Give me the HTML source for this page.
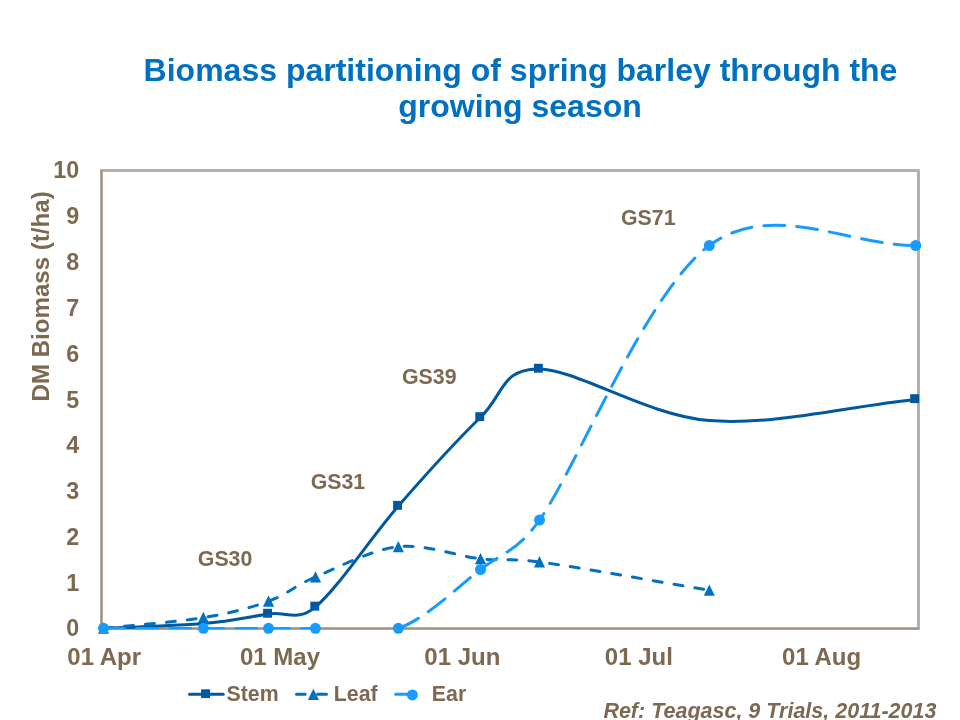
<!DOCTYPE html>
<html lang="en"><head><meta charset="utf-8"><title>Biomass partitioning of spring barley</title>
<style>
html,body{margin:0;padding:0;background:#fff;}
body{width:960px;height:720px;overflow:hidden;font-family:"Liberation Sans",sans-serif;}
svg{display:block;}
text{font-family:"Liberation Sans",sans-serif;font-weight:bold;}
</style></head><body>
<svg width="960" height="720" viewBox="0 0 960 720">
<rect width="960" height="720" fill="#fff"/>
<g fill="#0070C0" font-size="32" text-anchor="middle"><text x="520.5" y="80.8">Biomass partitioning of spring barley through the</text><text x="520" y="117.4">growing season</text></g>
<rect x="101.5" y="170.5" width="817.0" height="458.0" fill="none" stroke="#BBB0A5" stroke-width="3" stroke-linejoin="round"/>
<path d="M101.5 169.5V628.65H919.5" stroke="rgba(125,104,80,0.47)" stroke-width="1.4" fill="none" stroke-linejoin="round"/>
<g fill="#7D6850" font-size="23.33" text-anchor="end">
<text transform="translate(79.3 635.8) scale(1 1.04)">0</text>
<text transform="translate(79.3 590.9) scale(1 1.04)">1</text>
<text transform="translate(79.3 545.1) scale(1 1.04)">2</text>
<text transform="translate(79.3 499.3) scale(1 1.04)">3</text>
<text transform="translate(79.3 453.4) scale(1 1.04)">4</text>
<text transform="translate(79.3 407.6) scale(1 1.04)">5</text>
<text transform="translate(79.3 361.8) scale(1 1.04)">6</text>
<text transform="translate(79.3 315.8) scale(1 1.04)">7</text>
<text transform="translate(79.3 270.0) scale(1 1.04)">8</text>
<text transform="translate(79.3 223.8) scale(1 1.04)">9</text>
<text transform="translate(79.3 177.8) scale(1 1.04)">10</text>
</g>
<g fill="#7D6850" font-size="24" text-anchor="middle">
<text transform="translate(104.2 665.1) scale(1 1.03)">01 Apr</text>
<text transform="translate(280.0 665.1) scale(1 1.03)">01 May</text>
<text transform="translate(462.3 665.1) scale(1 1.03)">01 Jun</text>
<text transform="translate(638.8 665.1) scale(1 1.03)">01 Jul</text>
<text transform="translate(821.6 665.1) scale(1 1.03)">01 Aug</text>
</g>
<text transform="translate(48.8 296.4) rotate(-90)" fill="#7D6850" font-size="24.1" text-anchor="middle">DM Biomass (t/ha)</text>
<g fill="#7D6850" font-size="21.33">
<text transform="translate(197.8 565.9) scale(1 1.03)">GS30</text>
<text transform="translate(310.7 488.8) scale(1 1.03)">GS31</text>
<text transform="translate(402.0 383.8) scale(1 1.03)">GS39</text>
<text transform="translate(621.0 225.0) scale(1 1.03)">GS71</text>
</g>
<defs><clipPath id="pc"><rect x="100" y="168" width="821" height="461.25"/></clipPath></defs>
<path d="M103.50 628.30 C136.80 626.73 175.92 625.98 203.40 623.60 C230.88 621.22 249.70 616.78 268.40 614.00 C287.10 611.22 297.24 622.15 315.60 606.90 C337.27 588.90 370.90 537.60 398.40 506.00 C425.90 474.40 457.13 440.15 480.60 417.30 C504.07 394.45 501.20 368.35 539.20 368.90 C577.32 369.45 646.57 415.52 709.30 420.60 C772.03 425.68 846.83 406.47 915.60 399.40" fill="none" stroke="#00589E" stroke-width="3" stroke-linecap="round" stroke-linejoin="round" clip-path="url(#pc)"/>
<rect x="263.1" y="608.8" width="8.9" height="8.9" fill="#00589E"/>
<rect x="310.3" y="601.7" width="8.9" height="8.9" fill="#00589E"/>
<rect x="393.1" y="500.9" width="8.9" height="8.9" fill="#00589E"/>
<rect x="475.3" y="412.2" width="8.9" height="8.9" fill="#00589E"/>
<rect x="533.9" y="363.8" width="8.9" height="8.9" fill="#00589E"/>
<rect x="910.2" y="394.2" width="8.9" height="8.9" fill="#00589E"/>
<path d="M103.50 628.30 C136.80 624.73 175.90 622.10 203.40 617.60 C230.90 613.10 249.82 608.07 268.50 601.30 C287.18 594.53 293.87 586.10 315.50 577.00 C337.13 567.90 370.80 549.73 398.30 546.70 C425.80 543.67 456.97 556.27 480.50 558.80 C504.03 561.33 510.24 557.87 539.50 561.90 C577.63 567.15 652.70 580.83 709.30 590.30" fill="none" stroke="#0070C0" stroke-width="3" stroke-dasharray="9 12" stroke-linecap="round" clip-path="url(#pc)"/>
<path d="M103.5 622.5L109.0 633.8H98.0Z" fill="#0070C0"/>
<path d="M203.4 611.8L209.0 623.1H197.8Z" fill="#0070C0"/>
<path d="M268.5 595.5L274.1 606.8H262.9Z" fill="#0070C0"/>
<path d="M315.5 571.2L321.1 582.5H309.9Z" fill="#0070C0"/>
<path d="M398.3 540.9L403.9 552.2H392.8Z" fill="#0070C0"/>
<path d="M480.5 553.0L486.1 564.3H474.9Z" fill="#0070C0"/>
<path d="M539.5 556.1L545.0 567.4H534.0Z" fill="#0070C0"/>
<path d="M709.3 584.5L714.8 595.8H703.8Z" fill="#0070C0"/>
<path d="M103.50 628.50 C136.80 628.50 175.90 628.50 203.40 628.50 C230.90 628.50 249.83 628.50 268.50 628.50 C287.17 628.50 293.77 628.50 315.40 628.50" fill="none" stroke="#189BFF" stroke-width="3" stroke-dasharray="21 12" stroke-linecap="round" clip-path="url(#pc)"/>
<path d="M398.30 628.50 C425.82 618.67 456.97 587.58 480.50 569.50 C504.03 551.42 517.29 551.45 539.50 520.00 C577.63 466.00 646.60 291.25 709.30 245.50 C772.00 199.75 846.90 245.50 915.70 245.50" fill="none" stroke="#189BFF" stroke-width="3" stroke-dasharray="21 12" stroke-dashoffset="-1.5" stroke-linecap="round"/>
<circle cx="103.5" cy="628.3" r="5.5" fill="#189BFF"/>
<circle cx="203.4" cy="628.3" r="5.5" fill="#189BFF"/>
<circle cx="268.5" cy="628.3" r="5.5" fill="#189BFF"/>
<circle cx="315.4" cy="628.3" r="5.5" fill="#189BFF"/>
<circle cx="398.3" cy="628.3" r="5.5" fill="#189BFF"/>
<circle cx="480.5" cy="569.5" r="5.5" fill="#189BFF"/>
<circle cx="539.5" cy="520.0" r="5.5" fill="#189BFF"/>
<circle cx="709.3" cy="245.5" r="5.5" fill="#189BFF"/>
<circle cx="915.7" cy="245.5" r="5.5" fill="#189BFF"/>
<path d="M189.5 694.3H223.2" stroke="#00589E" stroke-width="3" stroke-linecap="round"/>
<rect x="201.1" y="689.3" width="9" height="8.8" fill="#00589E"/>
<path d="M296.5 694.3H305.2M317.5 694.3H326.5" stroke="#0070C0" stroke-width="3" stroke-linecap="round"/>
<path d="M313.4 688.8L318.9 700.1H307.8Z" fill="#0070C0"/>
<path d="M395.6 694.3H412" stroke="#189BFF" stroke-width="3" stroke-linecap="round"/>
<circle cx="412.4" cy="694.9" r="5.5" fill="#189BFF"/>
<g fill="#7D6850" font-size="21.33"><text x="226.5" y="700.7">Stem</text><text x="333.8" y="700.7">Leaf</text><text x="431.8" y="700.7">Ear</text></g>
<text x="603.4" y="717.7" fill="#7D6850" font-size="21.5" font-style="italic">Ref: Teagasc, 9 Trials, 2011-2013</text>
</svg></body></html>
